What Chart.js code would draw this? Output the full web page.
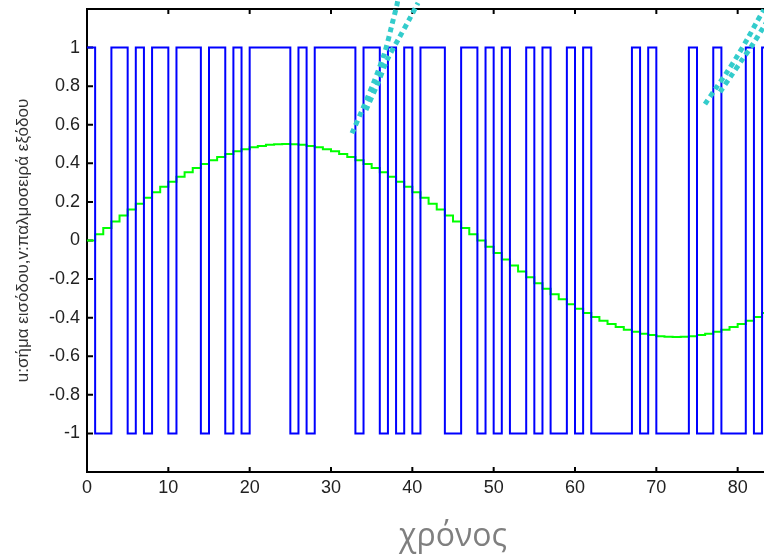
<!DOCTYPE html>
<html>
<head>
<meta charset="utf-8">
<style>
  html, body { margin: 0; padding: 0; overflow: hidden; background: #fff; width: 764px; height: 560px; }
  #wrap { position: absolute; left: 0; top: 0; width: 764px; height: 560px; overflow: hidden; }
  canvas { display: block; }
</style>
<script src="https://cdn.jsdelivr.net/npm/chart.js@4.4.1/dist/chart.umd.min.js"></script>
</head>
<body>
<div id="wrap"><canvas id="c" width="819" height="560"></canvas></div>
<script>
// u[n]: sampled sine input, one sample per time unit
const inputSignal = [
  0, 0.033, 0.065, 0.098, 0.129, 0.161, 0.191, 0.221, 0.25, 0.278,
  0.304, 0.330, 0.354, 0.376, 0.397, 0.416, 0.433, 0.448, 0.462, 0.473,
  0.483, 0.490, 0.496, 0.499, 0.5, 0.499, 0.496, 0.490, 0.483, 0.473,
  0.462, 0.448, 0.433, 0.416, 0.397, 0.376, 0.354, 0.330, 0.304, 0.278,
  0.25, 0.221, 0.191, 0.161, 0.129, 0.098, 0.065, 0.033, 0, -0.033,
  -0.065, -0.098, -0.129, -0.161, -0.191, -0.221, -0.25, -0.278, -0.304, -0.330,
  -0.354, -0.376, -0.397, -0.416, -0.433, -0.448, -0.462, -0.473, -0.483, -0.490,
  -0.496, -0.499, -0.5, -0.499, -0.496, -0.490, -0.483, -0.473, -0.462, -0.448,
  -0.433, -0.416, -0.397, -0.376, -0.354
];

// v[n]: +1 / -1 output pulse train
const pulseTrain = [
  1, -1, -1, 1, 1, -1, 1, -1, 1, 1,
  -1, 1, 1, 1, -1, 1, 1, -1, 1, -1,
  1, 1, 1, 1, 1, -1, 1, -1, 1, 1,
  1, 1, 1, -1, 1, 1, -1, 1, -1, 1,
  -1, 1, 1, 1, -1, -1, 1, 1, -1, 1,
  -1, 1, -1, -1, 1, -1, 1, -1, -1, 1,
  -1, 1, -1, -1, -1, -1, -1, 1, -1, 1,
  -1, -1, -1, -1, 1, -1, -1, 1, -1, -1,
  -1, 1, -1, 1, -1
];

const xTickValues = [0, 10, 20, 30, 40, 50, 60, 70, 80];
const yTickValues = [-1, -0.8, -0.6, -0.4, -0.2, 0, 0.2, 0.4, 0.6, 0.8, 1];

// dotted cyan strokes (time, amplitude)
const strokeLeftA  = [[32.58, 0.556], [33.93, 0.686], [35.28, 0.822], [36.63, 0.978], [37.49, 1.118], [38.11, 1.222], [38.23, 1.25]];
const strokeLeftB  = [[34.30, 0.676], [35.67, 0.806], [36.90, 0.936], [38.37, 1.050], [39.60, 1.144], [40.70, 1.232]];
const strokeRightA = [[75.98, 0.707], [77.33, 0.790], [78.69, 0.873], [80.04, 0.962], [81.27, 1.050], [82.37, 1.134], [83.23, 1.196]];
const strokeRightB = [[77.83, 0.770], [79.19, 0.853], [80.54, 0.936], [81.89, 1.019], [83.12, 1.102], [84.20, 1.175]];

const toPoints = arr => arr.map((v, n) => ({ x: n, y: v }));
const toXY = arr => arr.map(([x, y]) => ({ x, y }));

// inward tick marks and the top/right edges of the axes box
const boxTicks = {
  id: 'boxTicks',
  beforeDatasetsDraw(chart) {
    const { ctx, chartArea: a, scales: { x, y } } = chart;
    ctx.save();
    ctx.strokeStyle = '#000';
    ctx.lineWidth = 2;
    ctx.beginPath();
    ctx.moveTo(a.left - 1, a.top);
    ctx.lineTo(a.right, a.top);
    ctx.lineTo(a.right, a.bottom);
    xTickValues.forEach(v => {
      const px = x.getPixelForValue(v);
      ctx.moveTo(px, a.bottom); ctx.lineTo(px, a.bottom - 5);
      ctx.moveTo(px, a.top); ctx.lineTo(px, a.top + 5);
    });
    yTickValues.forEach(v => {
      const py = y.getPixelForValue(v);
      ctx.moveTo(a.left, py); ctx.lineTo(a.left + 6, py);
      ctx.moveTo(a.right, py); ctx.lineTo(a.right - 6, py);
    });
    ctx.stroke();
    ctx.restore();
  }
};

const dotted = (pts) => ({
  data: toXY(pts),
  borderColor: '#33CCCC',
  borderWidth: 5,
  borderDash: [5, 4],
  borderCapStyle: 'butt',
  pointRadius: 0,
  tension: 0.3,
  clip: false,
  order: 0
});

new Chart(document.getElementById('c'), {
  type: 'line',
  data: {
    datasets: [
      {
        label: 'v',
        data: toPoints(pulseTrain),
        stepped: 'before',
        borderColor: '#0000FF',
        borderWidth: 2,
        pointRadius: 0,
        order: 1
      },
      {
        label: 'u',
        data: toPoints(inputSignal),
        stepped: 'before',
        borderColor: '#00FF00',
        borderWidth: 2,
        pointRadius: 0,
        order: 2
      },
      dotted(strokeLeftA),
      dotted(strokeLeftB),
      dotted(strokeRightA),
      dotted(strokeRightB)
    ]
  },
  options: {
    responsive: false,
    animation: false,
    devicePixelRatio: 1,
    layout: { padding: { top: 9, right: 0, bottom: 0, left: 0 } },
    plugins: { legend: { display: false }, tooltip: { enabled: false } },
    scales: {
      x: {
        type: 'linear',
        min: 0,
        max: 90,
        grid: { display: false, drawTicks: false },
        border: { display: true, color: '#000', width: 2 },
        afterBuildTicks: s => { s.ticks = xTickValues.map(v => ({ value: v })); },
        afterFit: s => { s.height = 88; s.paddingLeft = 0; s.paddingRight = 0; },
        ticks: {
          padding: 5,
          maxRotation: 0,
          autoSkip: false,
          color: '#222',
          font: { family: 'Liberation Sans', size: 18 },
          callback: v => String(v)
        },
        title: {
          display: true,
          text: 'χρόνος',
          color: '#7f7f7f',
          font: { family: 'Open Sans', size: 32 },
          padding: { top: 0, bottom: 4 }
        }
      },
      y: {
        type: 'linear',
        min: -1.2,
        max: 1.2,
        grid: { display: false, drawTicks: false },
        border: { display: true, color: '#000', width: 2 },
        afterBuildTicks: s => { s.ticks = yTickValues.map(v => ({ value: v })); },
        afterFit: s => { s.width = 87; s.paddingTop = 0; s.paddingBottom = 0; },
        ticks: {
          padding: 7,
          autoSkip: false,
          color: '#222',
          font: { family: 'Liberation Sans', size: 18 },
          callback: v => (v === 0 ? '0' : String(+v.toFixed(1)))
        },
        title: {
          display: true,
          text: 'u:σήμα εισόδου,v:παλμοσειρά εξόδου',
          color: '#333',
          font: { family: 'Liberation Sans', size: 17 },
          padding: { top: 13, bottom: 0 }
        }
      }
    }
  },
  plugins: [boxTicks]
});
</script>
</body>
</html>
